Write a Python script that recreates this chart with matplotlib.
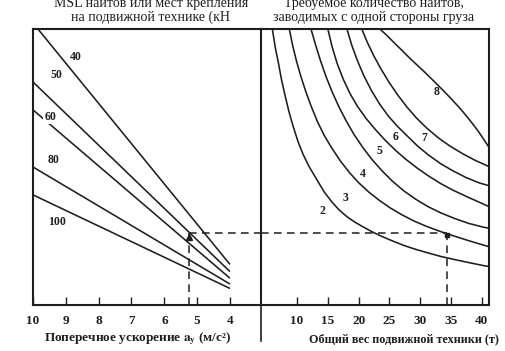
import matplotlib
matplotlib.use("Agg")
import matplotlib.pyplot as plt
from matplotlib.lines import Line2D

plt.rcParams['font.family'] = ['Liberation Serif', 'DejaVu Serif']
plt.rcParams['mathtext.fontset'] = 'stix'

# ---------------- data ----------------
# left panel: MSL lines (kN) vs transverse acceleration
msl_labels = ["40", "50", "60", "80", "100"]
msl_accel_start = [9.85, 10.0, 10.0, 10.0, 10.0]
msl_h_start = [100.0, 80.8, 70.7, 50.0, 39.9]
msl_accel_end = [4.0, 4.0, 4.0, 4.0, 4.0]
msl_h_end = [14.7, 12.1, 9.7, 7.6, 6.0]
msl_label_accel = [8.69, 9.30, 9.48, 9.36, 9.27]
msl_label_h = [89.9, 83.3, 68.1, 52.5, 30.1]

accel_ticks = [10, 9, 8, 7, 6, 5, 4]
weight_ticks = [10, 15, 20, 25, 30, 35, 40]

# right panel: number of lashings curves, weight (t) vs height
lash_labels = ["2", "3", "4", "5", "6", "7", "8"]
lash_w = [
    [6.0, 6.5, 7.0, 7.5, 8.0, 8.7, 9.4, 10.2, 11.0, 12.0, 13.2, 14.4, 15.6, 16.8, 18.1, 19.4,
     20.8, 22.2, 23.8, 25.5, 27.3, 29.2, 31.2, 33.3, 35.5, 37.8, 40.2, 41.2],
    [8.75, 9.3, 9.9, 10.6, 11.4, 12.3, 13.3, 14.4, 15.6, 17.0, 18.5, 20.0, 21.6, 23.3, 25.1,
     27.0, 29.0, 31.1, 33.3, 35.6, 38.0, 40.4, 41.2],
    [12.27, 13.0, 13.8, 14.7, 15.7, 16.8, 18.0, 19.3, 20.7, 22.2, 23.8, 25.5, 27.3, 29.2,
     31.2, 33.3, 35.5, 37.8, 40.2, 41.2],
    [15.0, 15.7, 16.5, 17.5, 18.6, 19.8, 21.2, 22.7, 24.3, 26.0, 27.7, 29.5, 31.3, 33.3,
     35.3, 37.5, 39.8, 41.2],
    [18.1, 18.9, 19.8, 20.9, 22.1, 23.4, 24.8, 26.3, 27.9, 29.6, 31.4, 33.3, 35.3, 37.4,
     39.6, 41.2],
    [20.5, 21.4, 22.4, 23.6, 24.9, 26.3, 27.8, 29.4, 31.1, 32.9, 34.8, 36.8, 38.9, 41.2],
    [23.46, 24.7, 25.9, 27.1, 28.3, 29.5, 30.6, 31.7, 32.7, 33.9, 35.1, 36.3, 37.4, 38.4,
     39.35, 40.3, 41.2],
]
lash_h = [
    [100, 93, 87.5, 81.5, 76.5, 70, 64.5, 59, 54.5, 50, 45.5, 41, 37.5, 34.5, 32, 30,
     28.2, 26.5, 24.8, 23.2, 21.6, 20.2, 18.9, 17.6, 16.5, 15.4, 14.3, 13.9],
    [100, 94, 88.5, 83, 77.5, 72, 66.5, 61.5, 57, 52.3, 48, 44.3, 41, 38, 35.2,
     32.7, 30.4, 28.4, 26.6, 24.9, 23.2, 21.6, 21.1],
    [100, 94.3, 88.6, 82.8, 77.2, 71.8, 66.6, 61.6, 57, 52.6, 48.6, 44.8, 41.4, 38.4,
     35.7, 33.4, 31.4, 29.6, 28.2, 27.8],
    [100, 93.5, 87.6, 81.8, 76.6, 72.0, 67.6, 63.6, 59.7, 56.0, 52.7, 49.6, 46.8, 44.0,
     41.6, 39.3, 37.0, 35.6],
    [100, 94, 88.5, 82.8, 77.6, 72.8, 68.5, 64.7, 61.2, 57.5, 54.2, 51.2, 48.6, 46.2,
     44.2, 43.2],
    [100, 95.2, 90.5, 85.6, 80.8, 76.2, 71.8, 67.7, 64.0, 60.6, 57.6, 54.9, 52.4, 50.1],
    [100, 97.4, 94.7, 92.1, 89.4, 86.9, 84.6, 82.2, 80.0, 77.3, 74.5, 71.6, 68.7, 65.9,
     63.1, 60.0, 56.9],
]
lash_label_w = [14.2, 17.8, 20.7, 23.3, 26.0, 30.6, 32.7]
lash_label_h = [34.1, 38.8, 47.5, 55.8, 60.9, 60.5, 77.2]

# worked example (dashed)
ex_accel = 5.25
ex_h = 26.0
ex_weight = 34.3

# ---------------- figure ----------------
W, H = 506, 351
fig = plt.figure(figsize=(W / 100, H / 100), dpi=100)
fig.patch.set_facecolor('white')

axL = fig.add_axes([33 / W, 46 / H, 228 / W, 276 / H])
axR = fig.add_axes([261 / W, 46 / H, 228 / W, 276 / H])

ink = '#1e1e1e'
for ax in (axL, axR):
    ax.set_ylim(0, 100)
    ax.set_yticks([])
    for s in ax.spines.values():
        s.set_linewidth(1.5)
        s.set_color(ink)
    ax.tick_params(axis='x', direction='in', length=6, width=1.0, color=ink,
                   pad=7, labelsize=9.5, labelcolor=ink)
    ax.set_facecolor('none')

axL.spines['right'].set_visible(False)
axL.set_xlim(10, 3.055)
axR.set_xlim(4.16, 41.14)

axL.set_xticks(accel_ticks)
axL.set_xticklabels([str(t) for t in accel_ticks], fontweight='bold')
axR.set_xticks(weight_ticks)
axR.set_xticklabels([str(t) for t in weight_ticks], fontweight='bold')

# left lines
for i, lab in enumerate(msl_labels):
    axL.plot([msl_accel_start[i], msl_accel_end[i]], [msl_h_start[i], msl_h_end[i]],
             color=ink, lw=1.15, solid_capstyle='butt', zorder=2)
    bbox = dict(facecolor='white', edgecolor='none', pad=0.6) if lab == "60" else None
    axL.text(msl_label_accel[i], msl_label_h[i], lab, fontsize=8.5, fontweight='bold',
             ha='center', va='center', color=ink, bbox=bbox, zorder=3)

# right curves
for i, lab in enumerate(lash_labels):
    axR.plot(lash_w[i], lash_h[i], color=ink, lw=1.15, zorder=2,
             solid_joinstyle='round')
    axR.text(lash_label_w[i], lash_label_h[i], lab, fontsize=8.5, fontweight='bold',
             ha='center', va='center', color=ink, zorder=3)

# dashed example
dash = dict(color=ink, lw=1.1, dashes=(5, 3.5))
axL.plot([ex_accel, ex_accel], [0, ex_h], **dash)
axL.plot([ex_accel, 3.055], [ex_h, ex_h], **dash)
axR.plot([4.16, ex_weight], [ex_h, ex_h], **dash)
axR.plot([ex_weight, ex_weight], [0, ex_h], **dash)
axL.plot([ex_accel], [ex_h - 1.5], marker='^', ms=4, color=ink)
axR.plot([ex_weight], [ex_h - 0.5], marker='s', ms=3.5, color=ink)

# divider extension below the box
fig.add_artist(Line2D([261 / W, 261 / W], [46 / H, 10 / H], transform=fig.transFigure,
                      color=ink, lw=1.2))

# titles
fig.text(151 / W, 1 - 3 / H, "MSL найтов или мест крепления", ha='center', va='center',
         fontsize=10, color=ink)
fig.text(151 / W, 1 - 17 / H, "на подвижной технике (кН", ha='center', va='center',
         fontsize=10, color=ink)
fig.text(374 / W, 1 - 3 / H, "Требуемое количество найтов,", ha='center', va='center',
         fontsize=10, color=ink)
fig.text(374 / W, 1 - 17 / H, "заводимых с одной стороны груза", ha='center', va='center',
         fontsize=10, color=ink)

fig.text(138 / W, 1 - 339 / H, r"Поперечное ускорение $\mathbf{a_y}$ (м/с²)", ha='center',
         va='center', fontsize=9.5, fontweight='bold', color=ink)
fig.text(404 / W, 1 - 339 / H, "Общий вес подвижной техники (т)", ha='center',
         va='center', fontsize=8.7, fontweight='bold', color=ink)

fig.savefig("out.png", dpi=100, facecolor='white')
